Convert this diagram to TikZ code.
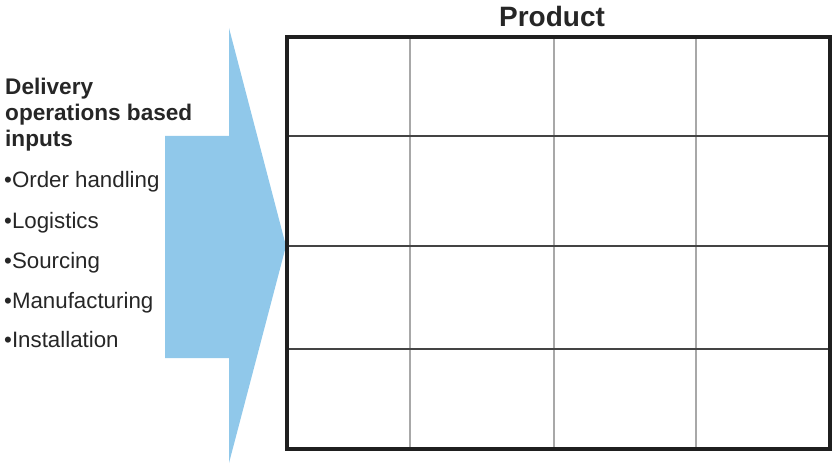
\documentclass[tikz,border=0pt]{standalone}
\usepackage{fontspec}
\setmainfont{Liberation Sans}
\definecolor{arrowblue}{HTML}{90C8EA}
\definecolor{gridv}{HTML}{A8A8A8}
\definecolor{gridh}{HTML}{444444}
\begin{document}
\begin{tikzpicture}[x=1pt,y=-1pt,
  headtxt/.style={anchor=base west,inner sep=0pt,font=\fontsize{22.6}{26}\selectfont\bfseries,text=black!85},
  itemtxt/.style={anchor=base west,inner sep=0pt,font=\fontsize{22.3}{26}\selectfont,text=black!85},
  titletxt/.style={anchor=base,inner sep=0pt,font=\fontsize{28}{30}\selectfont\bfseries,text=black!85},
  vline/.style={draw=gridv,line width=2pt},
  hline/.style={draw=gridh,line width=1.5pt},
  frame/.style={draw=black!88,line width=4pt}]
\useasboundingbox (0,0) rectangle (832,465);
% arrow
\fill[arrowblue] (165,136) -- (229,136) -- (229,28) -- (286,246) -- (229,463) -- (229,358) -- (165,358) -- cycle;
% grid
\coordinate (tl) at (287,37);
\coordinate (br) at (829.5,449);
\foreach \x in {410,554,696} \draw[vline] (\x,37) -- (\x,449);
\foreach \y in {136,246,349} \draw[hline] (287,\y) -- (829.5,\y);
\draw[frame] (tl) rectangle (br);
% texts
\node[titletxt] (title) at (552,27) {Product};
\node[headtxt] (h1) at (5,95) {Delivery};
\node[headtxt] (h2) at (5,121) {operations based};
\node[headtxt] (h3) at (5,147) {inputs};
\node[itemtxt] (i1) at (4,188) {•Order handling};
\node[itemtxt] (i2) at (4,228) {•Logistics};
\node[itemtxt] (i3) at (4,268) {•Sourcing};
\node[itemtxt] (i4) at (4,308) {•Manufacturing};
\node[itemtxt] (i5) at (4,347) {•Installation};
\end{tikzpicture}
\end{document}
